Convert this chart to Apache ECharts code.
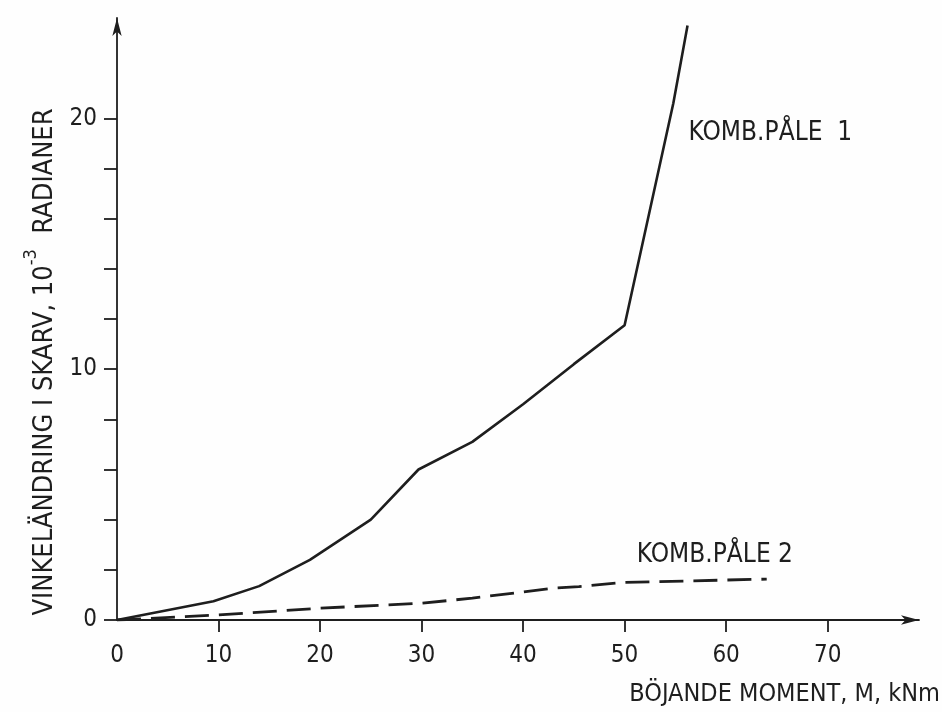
<!DOCTYPE html>
<html>
<head>
<meta charset="utf-8">
<script src="https://cdn.jsdelivr.net/npm/echarts@6/dist/echarts.min.js"></script>
<style>
  html, body { margin: 0; padding: 0; background: #fefefe; }
  #chart { width: 942px; height: 712px; }
</style>
</head>
<body>
<div id="chart"></div>
<script>
// Bending moment M (kNm) against joint rotation (10^-3 rad)
const pale1Moment = [0, 9.5, 14, 19, 25, 29.7, 35, 40, 45, 50, 54.8, 56.2];
const pale1Angle  = [0, 0.75, 1.35, 2.4, 4.0, 6.0, 7.1, 8.6, 10.2, 11.75, 20.6, 23.7];

const pale2Moment = [0, 10, 20, 30, 35, 43, 45.5, 50, 64];
const pale2Angle  = [0, 0.2, 0.47, 0.67, 0.87, 1.27, 1.33, 1.5, 1.63];

const xTickValues  = [10, 20, 30, 40, 50, 60, 70];
const xLabelValues = [0, 10, 20, 30, 40, 50, 60, 70];
const yTickValues  = [0, 2, 4, 6, 8, 10, 12, 14, 16, 18, 20];
const yLabelValues = [0, 10, 20];

const seriesNames = ['KOMB.PÅLE  1', 'KOMB.PÅLE 2'];
const xTitle = 'BÖJANDE MOMENT, M, kNm';

const FONT = "'DejaVu Sans Condensed', 'Liberation Sans Narrow', sans-serif";
const INK = '#1e1e1e';

const pairs = (xs, ys) => xs.map((x, i) => [x, ys[i]]);

const chart = echarts.init(document.getElementById('chart'), null, { renderer: 'canvas' });

chart.setOption({
  backgroundColor: '#fefefe',
  animation: false,
  grid: { left: 117, top: 18, right: 23, bottom: 92, containLabel: false },
  xAxis: {
    type: 'value',
    min: 0,
    max: 79,
    axisLine: {
      show: true,
      onZero: false,
      symbol: ['none', 'arrow'],
      symbolSize: [7, 18],
      lineStyle: { color: INK, width: 1.8 }
    },
    axisTick: {
      show: true,
      customValues: xTickValues,
      length: 12,
      lineStyle: { color: INK, width: 1.8 }
    },
    axisLabel: {
      customValues: xLabelValues,
      margin: 24,
      color: INK,
      fontFamily: FONT,
      fontSize: 24
    },
    splitLine: { show: false }
  },
  yAxis: {
    type: 'value',
    min: 0,
    max: 24,
    axisLine: {
      show: true,
      onZero: false,
      symbol: ['none', 'arrow'],
      symbolSize: [7, 18],
      lineStyle: { color: INK, width: 1.8 }
    },
    axisTick: {
      show: true,
      customValues: yTickValues,
      length: 13,
      lineStyle: { color: INK, width: 1.8 }
    },
    axisLabel: {
      customValues: yLabelValues,
      margin: 20,
      color: INK,
      fontFamily: FONT,
      fontSize: 24
    },
    splitLine: { show: false }
  },
  series: [
    {
      name: seriesNames[0],
      type: 'line',
      data: pairs(pale1Moment, pale1Angle),
      showSymbol: false,
      lineStyle: { color: INK, width: 2.6 },
      markPoint: {
        symbol: 'circle',
        symbolSize: 0,
        data: [{ coord: [56.3, 19.4] }],
        label: {
          show: true,
          position: 'right',
          distance: 0,
          formatter: seriesNames[0],
          color: INK,
          fontFamily: FONT,
          fontSize: 26
        }
      }
    },
    {
      name: seriesNames[1],
      type: 'line',
      data: pairs(pale2Moment, pale2Angle),
      showSymbol: false,
      lineStyle: { color: INK, width: 2.8, type: [24, 10] },
      markPoint: {
        symbol: 'circle',
        symbolSize: 0,
        data: [{ coord: [51.2, 2.6] }],
        label: {
          show: true,
          position: 'right',
          distance: 0,
          formatter: seriesNames[1],
          color: INK,
          fontFamily: FONT,
          fontSize: 26
        }
      }
    }
  ],
  graphic: [
    {
      type: 'text',
      right: 2,
      top: 682,
      style: {
        text: xTitle,
        fill: INK,
        font: '25px ' + FONT
      }
    },
    {
      type: 'text',
      x: 40,
      y: 362,
      rotation: Math.PI / 2,
      style: {
        text: '{a|VINKELÄNDRING I SKARV, 10}{s|-3}{a|  RADIANER}',
        align: 'center',
        verticalAlign: 'middle',
        rich: {
          a: { fontFamily: FONT, fontSize: 27, fill: INK, lineHeight: 36, verticalAlign: 'bottom' },
          s: { fontFamily: FONT, fontSize: 18, fill: INK, lineHeight: 32, verticalAlign: 'top' }
        }
      }
    }
  ]
});
</script>
</body>
</html>
